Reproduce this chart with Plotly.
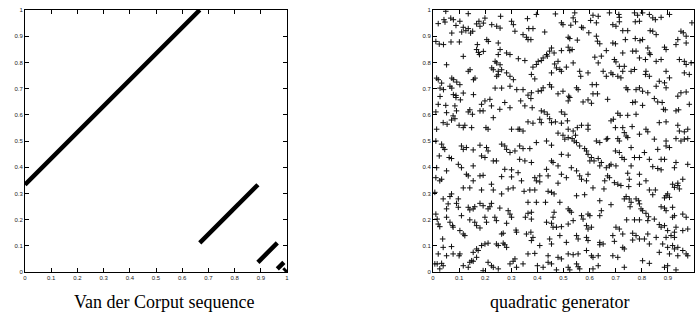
import plotly.graph_objects as go

# ---------------- data ----------------
# Van der Corput sequence: successive pairs (x_n, x_{n+1}) fall on these segments
vdc_x_start = [0.0, 0.667, 0.889, 0.963, 0.988, 0.996]
vdc_y_start = [0.333, 0.111, 0.037, 0.012, 0.004, 0.001]
vdc_x_end = [0.667, 0.889, 0.963, 0.988, 0.996, 0.999]
vdc_y_end = [1.0, 0.333, 0.111, 0.037, 0.012, 0.004]

# quadratic generator: pairs (x_n, x_{n+1})
quad_pairs = [
    # upper-left region
    (0.020, 0.948), (0.042, 0.963), (0.046, 0.954), (0.068, 0.969), (0.078, 0.963),
    (0.088, 0.941), (0.103, 0.957), (0.116, 0.934), (0.126, 0.921), (0.135, 0.929),
    (0.144, 0.912), (0.110, 0.916), (0.152, 0.919), (0.167, 0.947), (0.176, 0.957),
    (0.180, 0.938), (0.193, 0.950), (0.199, 0.969), (0.225, 0.944), (0.244, 0.938),
    (0.257, 0.931), (0.259, 0.976), (0.301, 0.957), (0.308, 0.944), (0.072, 0.912),
    (0.049, 0.995), (0.135, 0.986), (0.011, 0.880), (0.024, 0.870), (0.040, 0.868),
    (0.069, 0.878), (0.101, 0.878), (0.314, 0.919), (0.206, 0.887), (0.212, 0.880),
    (0.170, 0.868), (0.167, 0.849), (0.174, 0.838), (0.193, 0.842), (0.178, 0.830),
    (0.116, 0.823), (0.250, 0.874), (0.282, 0.836), (0.295, 0.830), (0.257, 0.849),
    (0.327, 0.814), (0.250, 0.830), (0.238, 0.804), (0.244, 0.798), (0.257, 0.791),
    (0.225, 0.779), (0.231, 0.772), (0.250, 0.766), (0.263, 0.772), (0.295, 0.747),
    (0.244, 0.747), (0.250, 0.753), (0.282, 0.760), (0.142, 0.772), (0.135, 0.766),
    (0.052, 0.791), (0.014, 0.740), (0.020, 0.734), (0.033, 0.721), (0.027, 0.702),
    (0.040, 0.696), (0.072, 0.740), (0.078, 0.734), (0.091, 0.725), (0.103, 0.715),
    (0.065, 0.709), (0.072, 0.702), (0.155, 0.734), (0.161, 0.740), (0.238, 0.702),
    (0.263, 0.702), (0.295, 0.709), (0.321, 0.696), (0.078, 0.677), (0.088, 0.674),
    (0.116, 0.683), (0.027, 0.670), (0.155, 0.677), (0.308, 0.734),
    # upper-middle region
    (0.396, 0.983), (0.469, 0.985), (0.543, 0.989), (0.537, 0.970), (0.546, 0.955),
    (0.613, 0.980), (0.633, 0.976), (0.604, 0.960), (0.626, 0.951), (0.492, 0.951),
    (0.498, 0.944), (0.528, 0.942), (0.569, 0.934), (0.575, 0.932), (0.362, 0.967),
    (0.367, 0.929), (0.383, 0.929), (0.428, 0.916), (0.345, 0.906), (0.358, 0.896),
    (0.364, 0.887), (0.375, 0.887), (0.518, 0.896), (0.524, 0.891), (0.553, 0.885),
    (0.597, 0.913), (0.626, 0.900), (0.630, 0.881), (0.639, 0.871), (0.664, 0.845),
    (0.454, 0.855), (0.447, 0.843), (0.464, 0.836), (0.435, 0.830), (0.438, 0.824),
    (0.422, 0.817), (0.415, 0.807), (0.403, 0.804), (0.396, 0.792), (0.383, 0.782),
    (0.377, 0.754), (0.390, 0.737), (0.492, 0.845), (0.518, 0.858), (0.524, 0.845),
    (0.533, 0.849), (0.479, 0.804), (0.466, 0.794), (0.473, 0.779), (0.486, 0.773),
    (0.492, 0.766), (0.454, 0.760), (0.537, 0.798), (0.511, 0.782), (0.562, 0.766),
    (0.594, 0.760), (0.352, 0.807), (0.620, 0.820), (0.645, 0.824), (0.633, 0.798),
    (0.652, 0.766), (0.626, 0.715), (0.664, 0.747), (0.447, 0.715), (0.454, 0.706),
    (0.422, 0.703), (0.415, 0.692), (0.403, 0.690), (0.377, 0.684), (0.364, 0.675),
    (0.345, 0.696), (0.479, 0.680), (0.498, 0.690), (0.520, 0.671), (0.550, 0.703),
    (0.556, 0.696), (0.613, 0.680), (0.630, 0.680), (0.610, 0.715), (0.566, 0.747),
    # upper-right region
    (0.712, 0.983), (0.714, 0.972), (0.772, 0.989), (0.784, 0.980), (0.803, 0.989),
    (0.829, 0.983), (0.842, 0.970), (0.852, 0.963), (0.874, 0.972), (0.906, 0.983),
    (0.791, 0.957), (0.775, 0.955), (0.689, 0.944), (0.701, 0.938), (0.714, 0.955),
    (0.727, 0.921), (0.746, 0.921), (0.737, 0.887), (0.775, 0.891), (0.793, 0.883),
    (0.803, 0.887), (0.832, 0.921), (0.842, 0.919), (0.855, 0.906), (0.950, 0.919),
    (0.959, 0.913), (0.970, 0.900), (0.938, 0.887), (0.970, 0.874), (0.689, 0.874),
    (0.699, 0.871), (0.727, 0.836), (0.765, 0.843), (0.778, 0.843), (0.823, 0.855),
    (0.829, 0.836), (0.832, 0.830), (0.887, 0.858), (0.893, 0.849), (0.931, 0.868),
    (0.791, 0.817), (0.814, 0.811), (0.855, 0.804), (0.874, 0.811), (0.695, 0.811),
    (0.701, 0.802), (0.714, 0.785), (0.733, 0.785), (0.727, 0.766), (0.682, 0.760),
    (0.689, 0.754), (0.708, 0.747), (0.720, 0.741), (0.759, 0.766), (0.772, 0.773),
    (0.816, 0.766), (0.814, 0.754), (0.829, 0.747), (0.893, 0.766), (0.867, 0.728),
    (0.887, 0.722), (0.906, 0.741), (0.944, 0.811), (0.963, 0.804), (0.970, 0.792),
    (0.989, 0.798), (0.963, 0.760), (0.982, 0.754), (0.740, 0.703), (0.746, 0.696),
    (0.778, 0.696), (0.791, 0.703), (0.803, 0.690), (0.823, 0.684), (0.855, 0.709),
    (0.893, 0.703), (0.950, 0.684), (0.970, 0.687), (0.938, 0.671), (0.676, 0.989),
    (0.992, 0.951),
    # middle-left region
    (0.020, 0.640), (0.088, 0.666), (0.105, 0.657), (0.049, 0.636), (0.084, 0.634),
    (0.090, 0.615), (0.011, 0.611), (0.052, 0.608), (0.077, 0.596), (0.084, 0.585),
    (0.071, 0.580), (0.039, 0.570), (0.054, 0.564), (0.100, 0.560), (0.116, 0.551),
    (0.122, 0.560), (0.135, 0.611), (0.141, 0.619), (0.151, 0.602), (0.180, 0.615),
    (0.192, 0.615), (0.186, 0.640), (0.199, 0.653), (0.218, 0.659), (0.224, 0.634),
    (0.231, 0.589), (0.256, 0.621), (0.275, 0.647), (0.295, 0.627), (0.148, 0.551),
    (0.203, 0.551), (0.211, 0.545), (0.301, 0.545), (0.326, 0.545), (0.014, 0.545),
    (0.011, 0.500), (0.033, 0.488), (0.039, 0.475), (0.045, 0.468), (0.024, 0.443),
    (0.062, 0.437), (0.071, 0.433), (0.109, 0.481), (0.128, 0.475), (0.116, 0.468),
    (0.154, 0.466), (0.180, 0.484), (0.205, 0.475), (0.211, 0.462), (0.186, 0.443),
    (0.199, 0.437), (0.231, 0.424), (0.243, 0.424), (0.263, 0.488), (0.275, 0.481),
    (0.282, 0.468), (0.295, 0.456), (0.314, 0.462), (0.014, 0.398), (0.011, 0.360),
    (0.033, 0.354), (0.026, 0.348), (0.052, 0.386), (0.097, 0.411), (0.109, 0.398),
    (0.128, 0.373), (0.135, 0.367), (0.154, 0.405), (0.154, 0.348), (0.180, 0.367),
    (0.192, 0.369), (0.224, 0.335), (0.263, 0.364), (0.275, 0.392), (0.301, 0.390),
    (0.301, 0.363), (0.326, 0.379),
    # centre region
    (0.336, 0.653), (0.352, 0.634), (0.375, 0.662), (0.380, 0.627), (0.415, 0.615),
    (0.426, 0.611), (0.438, 0.602), (0.409, 0.583), (0.415, 0.570), (0.447, 0.585),
    (0.454, 0.570), (0.469, 0.573), (0.492, 0.611), (0.505, 0.602), (0.518, 0.653),
    (0.524, 0.666), (0.575, 0.649), (0.594, 0.657), (0.607, 0.644), (0.364, 0.573),
    (0.383, 0.568), (0.332, 0.545), (0.345, 0.538), (0.492, 0.568), (0.515, 0.577),
    (0.518, 0.545), (0.537, 0.538), (0.546, 0.522), (0.553, 0.551), (0.569, 0.560),
    (0.594, 0.560), (0.594, 0.545), (0.479, 0.530), (0.498, 0.522), (0.505, 0.507),
    (0.518, 0.513), (0.533, 0.509), (0.541, 0.500), (0.550, 0.494), (0.562, 0.481),
    (0.581, 0.471), (0.588, 0.462), (0.594, 0.449), (0.626, 0.500), (0.639, 0.494),
    (0.664, 0.507), (0.332, 0.481), (0.345, 0.471), (0.371, 0.471), (0.396, 0.494),
    (0.435, 0.500), (0.454, 0.484), (0.492, 0.449), (0.518, 0.446), (0.332, 0.430),
    (0.352, 0.424), (0.377, 0.418), (0.454, 0.424), (0.460, 0.418), (0.479, 0.405),
    (0.435, 0.392), (0.441, 0.367), (0.409, 0.367), (0.390, 0.360), (0.396, 0.348),
    (0.409, 0.344), (0.339, 0.348), (0.492, 0.373), (0.511, 0.360), (0.530, 0.398),
    (0.550, 0.386), (0.562, 0.367), (0.569, 0.354), (0.588, 0.348), (0.594, 0.373),
    (0.601, 0.424), (0.607, 0.437), (0.617, 0.424), (0.633, 0.433), (0.639, 0.405),
    (0.645, 0.418), (0.664, 0.398), (0.658, 0.348), (0.479, 0.339),
    # middle-right region
    (0.669, 0.659), (0.765, 0.647), (0.775, 0.649), (0.803, 0.636), (0.848, 0.662),
    (0.861, 0.649), (0.878, 0.647), (0.883, 0.621), (0.890, 0.619), (0.931, 0.615),
    (0.941, 0.619), (0.982, 0.640), (0.682, 0.577), (0.691, 0.583), (0.708, 0.606),
    (0.717, 0.598), (0.746, 0.598), (0.778, 0.602), (0.699, 0.551), (0.727, 0.551),
    (0.763, 0.555), (0.816, 0.545), (0.823, 0.535), (0.791, 0.526), (0.867, 0.570),
    (0.893, 0.573), (0.938, 0.560), (0.944, 0.538), (0.963, 0.535), (0.976, 0.545),
    (0.669, 0.509), (0.708, 0.509), (0.714, 0.500), (0.733, 0.532), (0.740, 0.519),
    (0.746, 0.513), (0.848, 0.507), (0.893, 0.500), (0.893, 0.481), (0.906, 0.475),
    (0.931, 0.509), (0.950, 0.500), (0.963, 0.507), (0.976, 0.509), (0.699, 0.462),
    (0.714, 0.456), (0.759, 0.475), (0.810, 0.456), (0.829, 0.430), (0.861, 0.468),
    (0.874, 0.430), (0.887, 0.430), (0.724, 0.437), (0.733, 0.430), (0.772, 0.437),
    (0.791, 0.437), (0.682, 0.411), (0.676, 0.405), (0.701, 0.405), (0.759, 0.405),
    (0.842, 0.402), (0.861, 0.395), (0.874, 0.390), (0.931, 0.418), (0.925, 0.398),
    (0.976, 0.411), (0.669, 0.367), (0.676, 0.360), (0.695, 0.341), (0.708, 0.335),
    (0.746, 0.377), (0.752, 0.354), (0.791, 0.373), (0.816, 0.348), (0.791, 0.335),
    (0.918, 0.335), (0.938, 0.339), (0.957, 0.354),
    # lower-left region
    (0.007, 0.304), (0.039, 0.279), (0.065, 0.288), (0.071, 0.298), (0.097, 0.279),
    (0.116, 0.321), (0.141, 0.321), (0.186, 0.313), (0.231, 0.313), (0.263, 0.298),
    (0.288, 0.317), (0.307, 0.321), (0.058, 0.260), (0.052, 0.241), (0.090, 0.262),
    (0.097, 0.247), (0.135, 0.247), (0.141, 0.237), (0.154, 0.241), (0.160, 0.249),
    (0.180, 0.262), (0.192, 0.253), (0.211, 0.241), (0.218, 0.249), (0.224, 0.262),
    (0.256, 0.244), (0.288, 0.234), (0.295, 0.221), (0.301, 0.209), (0.011, 0.221),
    (0.016, 0.202), (0.020, 0.183), (0.026, 0.173), (0.052, 0.209), (0.065, 0.190),
    (0.075, 0.177), (0.077, 0.171), (0.109, 0.215), (0.103, 0.158), (0.116, 0.145),
    (0.122, 0.139), (0.141, 0.199), (0.160, 0.190), (0.167, 0.177), (0.180, 0.168),
    (0.199, 0.209), (0.205, 0.190), (0.237, 0.209), (0.243, 0.196), (0.263, 0.145),
    (0.269, 0.148), (0.282, 0.186), (0.318, 0.160), (0.037, 0.126), (0.039, 0.094),
    (0.071, 0.097), (0.020, 0.069), (0.052, 0.062), (0.077, 0.069), (0.103, 0.069),
    (0.100, 0.062), (0.154, 0.075), (0.167, 0.088), (0.173, 0.082), (0.186, 0.101),
    (0.199, 0.107), (0.211, 0.110), (0.243, 0.107), (0.250, 0.101), (0.269, 0.110),
    (0.275, 0.104), (0.282, 0.094), (0.320, 0.152), (0.007, 0.031), (0.016, 0.031),
    (0.033, 0.033), (0.039, 0.024), (0.026, 0.012), (0.116, 0.024), (0.135, 0.018),
    (0.141, 0.037), (0.148, 0.043), (0.154, 0.041), (0.167, 0.056), (0.192, 0.005),
    (0.211, 0.037), (0.224, 0.024), (0.231, 0.018), (0.250, 0.012), (0.295, 0.031),
    (0.307, 0.041), (0.314, 0.050), (0.320, 0.018),
    # lower-middle region
    (0.349, 0.308), (0.371, 0.313), (0.390, 0.313), (0.441, 0.308), (0.454, 0.304),
    (0.464, 0.298), (0.550, 0.291), (0.581, 0.295), (0.613, 0.321), (0.655, 0.317),
    (0.639, 0.272), (0.364, 0.266), (0.396, 0.266), (0.431, 0.266), (0.486, 0.266),
    (0.377, 0.228), (0.364, 0.224), (0.354, 0.209), (0.377, 0.202), (0.464, 0.228),
    (0.460, 0.209), (0.518, 0.241), (0.524, 0.234), (0.530, 0.228), (0.569, 0.215),
    (0.575, 0.202), (0.594, 0.221), (0.601, 0.215), (0.639, 0.215), (0.645, 0.234),
    (0.435, 0.190), (0.454, 0.186), (0.460, 0.171), (0.473, 0.171), (0.492, 0.173),
    (0.518, 0.183), (0.537, 0.196), (0.588, 0.177), (0.594, 0.164), (0.607, 0.171),
    (0.358, 0.145), (0.375, 0.152), (0.383, 0.132), (0.377, 0.120), (0.409, 0.101),
    (0.447, 0.126), (0.454, 0.107), (0.486, 0.139), (0.511, 0.113), (0.550, 0.139),
    (0.556, 0.126), (0.588, 0.132), (0.594, 0.120), (0.639, 0.113), (0.639, 0.104),
    (0.652, 0.107), (0.364, 0.069), (0.390, 0.071), (0.441, 0.062), (0.479, 0.056),
    (0.492, 0.050), (0.518, 0.069), (0.537, 0.066), (0.556, 0.069), (0.588, 0.082),
    (0.607, 0.062), (0.613, 0.056), (0.633, 0.062), (0.345, 0.031), (0.400, 0.024),
    (0.422, 0.018), (0.441, 0.037), (0.454, 0.031), (0.473, 0.008), (0.518, 0.018),
    (0.524, 0.008), (0.550, 0.031), (0.556, 0.020), (0.562, 0.012), (0.613, 0.012),
    (0.633, 0.024),
    # lower-right region
    (0.720, 0.330), (0.750, 0.326), (0.829, 0.313), (0.852, 0.313), (0.925, 0.323),
    (0.938, 0.330), (0.944, 0.317), (0.682, 0.257), (0.733, 0.279), (0.740, 0.288),
    (0.752, 0.279), (0.759, 0.266), (0.755, 0.249), (0.778, 0.279), (0.788, 0.272),
    (0.791, 0.260), (0.842, 0.295), (0.887, 0.283), (0.893, 0.291), (0.906, 0.285),
    (0.899, 0.298), (0.797, 0.241), (0.803, 0.234), (0.816, 0.224), (0.826, 0.211),
    (0.874, 0.249), (0.887, 0.244), (0.893, 0.234), (0.918, 0.247), (0.742, 0.199),
    (0.772, 0.199), (0.791, 0.199), (0.823, 0.196), (0.848, 0.202), (0.918, 0.209),
    (0.925, 0.215), (0.957, 0.221), (0.970, 0.209), (0.867, 0.181), (0.874, 0.171),
    (0.887, 0.177), (0.899, 0.158), (0.925, 0.152), (0.931, 0.171), (0.701, 0.171),
    (0.714, 0.164), (0.689, 0.139), (0.727, 0.145), (0.765, 0.148), (0.778, 0.139),
    (0.791, 0.126), (0.810, 0.126), (0.823, 0.145), (0.855, 0.132), (0.893, 0.132),
    (0.912, 0.139), (0.925, 0.132), (0.957, 0.158), (0.976, 0.164), (0.695, 0.117),
    (0.765, 0.122), (0.727, 0.094), (0.733, 0.088), (0.829, 0.107), (0.880, 0.107),
    (0.899, 0.094), (0.918, 0.101), (0.925, 0.088), (0.938, 0.094), (0.957, 0.082),
    (0.689, 0.062), (0.708, 0.056), (0.803, 0.043), (0.829, 0.033), (0.867, 0.075),
    (0.906, 0.069), (0.938, 0.062), (0.970, 0.069), (0.976, 0.062), (0.733, 0.018),
    (0.887, 0.018), (0.899, 0.024), (0.931, 0.008),
]

tick_values = [0, 0.1, 0.2, 0.3, 0.4, 0.5, 0.6, 0.7, 0.8, 0.9, 1]
tick_labels = ["0", "0.1", "0.2", "0.3", "0.4", "0.5", "0.6", "0.7", "0.8", "0.9", "1"]
captions = ["Van der Corput sequence", "quadratic generator"]

# ---------------- figure ----------------
seg_x, seg_y = [], []
for xs, ys, xe, ye in zip(vdc_x_start, vdc_y_start, vdc_x_end, vdc_y_end):
    seg_x += [xs, xe, None]
    seg_y += [ys, ye, None]

quad_x = [p[0] for p in quad_pairs]
quad_y = [p[1] for p in quad_pairs]

fig = go.Figure()
fig.add_trace(go.Scatter(
    x=seg_x, y=seg_y, mode="lines",
    line=dict(color="black", width=4.5),
    xaxis="x", yaxis="y", showlegend=False, hoverinfo="skip",
))
fig.add_trace(go.Scatter(
    x=quad_x, y=quad_y, mode="markers",
    marker=dict(symbol="cross-thin", size=4, color="black",
                line=dict(width=1, color="#111")),
    xaxis="x2", yaxis="y2", showlegend=False, cliponaxis=True,
))

W, H = 695, 322
tickfont = dict(family="Liberation Sans, Arial, sans-serif", size=6, color="#222")
axis_common = dict(
    showline=True, linecolor="black", linewidth=1, mirror="ticks",
    ticks="inside", ticklen=4, tickwidth=1, tickcolor="black",
    showgrid=False, zeroline=False, tickfont=tickfont, fixedrange=True,
    automargin=False,
)

fig.update_layout(
    width=W, height=H,
    margin=dict(l=0, r=0, t=0, b=0, pad=0),
    paper_bgcolor="white", plot_bgcolor="white",
    xaxis=dict(domain=[25 / W, 287 / W], range=[0, 1], anchor="y",
               tickvals=tick_values, ticktext=tick_labels, **axis_common),
    yaxis=dict(domain=[(H - 272) / H, (H - 10) / H], range=[0, 1], anchor="x",
               tickvals=tick_values, ticktext=tick_labels, **axis_common),
    xaxis2=dict(domain=[433 / W, 694 / W], range=[0, 1], anchor="y2",
                tickvals=tick_values[:-1], ticktext=tick_labels[:-1], **axis_common),
    yaxis2=dict(domain=[(H - 272) / H, (H - 10) / H], range=[0, 1], anchor="x2",
                tickvals=tick_values, ticktext=tick_labels, **axis_common),
    annotations=[
        dict(text=captions[0], x=164 / W, y=(H - 302) / H, xref="paper", yref="paper",
             showarrow=False, xanchor="center", yanchor="middle",
             font=dict(family="Liberation Serif, DejaVu Serif, serif", size=18, color="black")),
        dict(text=captions[1], x=559 / W, y=(H - 302) / H, xref="paper", yref="paper",
             showarrow=False, xanchor="center", yanchor="middle",
             font=dict(family="Liberation Serif, DejaVu Serif, serif", size=18, color="black")),
    ],
)

fig.write_html(
    "out.html",
    config={"displayModeBar": False},
    post_script="document.body.style.margin='0';document.body.style.padding='0';",
)
